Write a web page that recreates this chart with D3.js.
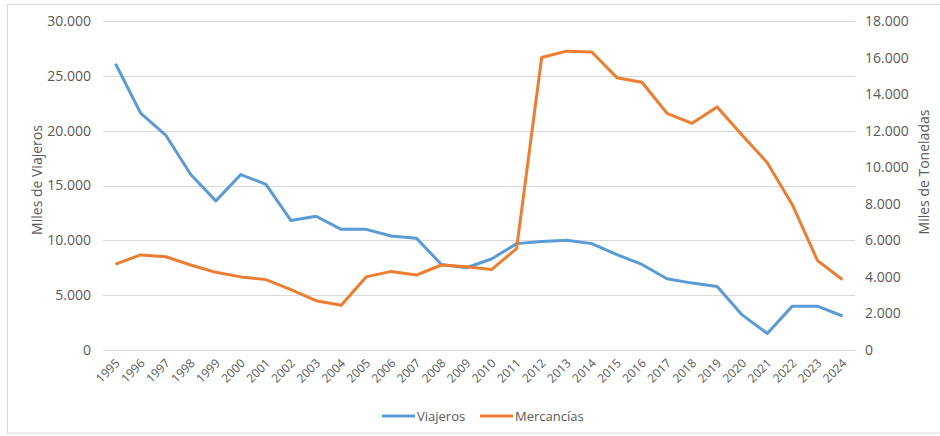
<!DOCTYPE html>
<html>
<script src="https://d3js.org/d3.v7.min.js"></script>
<style>
    body {
        margin: 0;
        background: #fff;
    }

    text {
        font-family: "Open Sans", sans-serif;
        fill: #595959;
    }
</style>

<body>
</body>
<script>
    const width = 940,
        height = 436;

    const years = ["1995", "1996", "1997", "1998", "1999", "2000", "2001", "2002", "2003", "2004",
        "2005", "2006", "2007", "2008", "2009", "2010", "2011", "2012", "2013", "2014",
        "2015", "2016", "2017", "2018", "2019", "2020", "2021", "2022", "2023", "2024"];
    const viajeros = [26100, 21600, 19600, 16000, 13600, 16000, 15100, 11800, 12200, 11000,
        11000, 10400, 10200, 7800, 7500, 8300, 9700, 9900, 10000, 9700,
        8700, 7800, 6500, 6100, 5800, 3200, 1500, 4000, 4000, 3100];
    const mercancias = [4700, 5200, 5100, 4650, 4250, 4000, 3850, 3300, 2700, 2450,
        4000, 4300, 4100, 4650, 4550, 4400, 5550, 16000, 16350, 16300,
        14900, 14650, 12950, 12400, 13300, 11750, 10250, 7950, 4900, 3850];
    const leftTicks = [0, 5000, 10000, 15000, 20000, 25000, 30000];
    const rightTicks = [0, 2000, 4000, 6000, 8000, 10000, 12000, 14000, 16000, 18000];
    const seriesNames = ["Viajeros", "Mercancías"];
    const colors = ["#5B9BD5", "#ED7D31"];

    const fmt = d3.formatLocale({ decimal: ",", thousands: ".", grouping: [3], currency: ["", "€"] }).format(",d");

    const svg = d3.select("body").append("svg").attr("width", width).attr("height", height);

    svg.append("rect")
        .attr("x", 7.5).attr("y", 4.5)
        .attr("width", 940).attr("height", 428.5)
        .attr("fill", "none").attr("stroke", "#d9d9d9");

    const x = d3.scaleBand().domain(years).range([103, 855]);
    const yL = d3.scaleLinear().domain([0, 30000]).range([350, 21]);
    const yR = d3.scaleLinear().domain([0, 18000]).range([350, 21]);

    // gridlines
    svg.append("g")
        .selectAll("line")
        .data(leftTicks)
        .join("line")
        .attr("x1", 103).attr("x2", 855)
        .attr("y1", d => Math.round(yL(d)) + 0.5)
        .attr("y2", d => Math.round(yL(d)) + 0.5)
        .attr("stroke", "#d9d9d9")
        .attr("stroke-width", 1);

    const leftAxis = svg.append("g")
        .attr("transform", "translate(103,0)")
        .call(d3.axisLeft(yL).tickValues(leftTicks).tickFormat(fmt).tickSize(0).tickPadding(12));
    leftAxis.selectAll("text").attr("font-size", 14).attr("fill", "#595959");

    const rightAxis = svg.append("g")
        .attr("transform", "translate(855,0)")
        .call(d3.axisRight(yR).tickValues(rightTicks).tickFormat(fmt).tickSize(0).tickPadding(10));
    rightAxis.selectAll("text").attr("font-size", 14).attr("fill", "#595959");

    svg.selectAll(".domain").remove();

    // x labels
    svg.append("g")
        .selectAll("text")
        .data(years)
        .join("text")
        .attr("transform", d => `translate(${x(d) + x.bandwidth() / 2 + 2},${361}) rotate(-45)`)
        .attr("text-anchor", "end")
        .attr("dy", "0.35em")
        .attr("font-size", 12)
        .text(d => d);

    // axis titles
    svg.append("text")
        .attr("transform", "translate(42,180) rotate(-90)")
        .attr("text-anchor", "middle")
        .attr("font-size", 14)
        .text("Miles de Viajeros");
    svg.append("text")
        .attr("transform", "translate(929,172) rotate(-90)")
        .attr("text-anchor", "middle")
        .attr("font-size", 14)
        .text("Miles de Toneladas");

    const cx = d => x(d) + x.bandwidth() / 2;

    const lineL = d3.line().x((d, i) => cx(years[i])).y(d => yL(d));
    const lineR = d3.line().x((d, i) => cx(years[i])).y(d => yR(d));

    svg.append("path")
        .datum(viajeros)
        .attr("fill", "none")
        .attr("stroke", colors[0])
        .attr("stroke-width", 3)
        .attr("stroke-linejoin", "round")
        .attr("d", lineL);

    svg.append("path")
        .datum(mercancias)
        .attr("fill", "none")
        .attr("stroke", colors[1])
        .attr("stroke-width", 3)
        .attr("stroke-linejoin", "round")
        .attr("d", lineR);

    // legend
    const legendX = [382, 480];
    const legend = svg.append("g")
        .selectAll("g")
        .data(seriesNames)
        .join("g")
        .attr("transform", (d, i) => `translate(${legendX[i]},416)`);
    legend.append("line")
        .attr("x1", 0).attr("x2", 33)
        .attr("stroke", (d, i) => colors[i])
        .attr("stroke-width", 3);
    legend.append("text")
        .attr("x", 35)
        .attr("dy", "0.35em")
        .attr("font-size", 13)
        .text(d => d);
</script>

</html>
